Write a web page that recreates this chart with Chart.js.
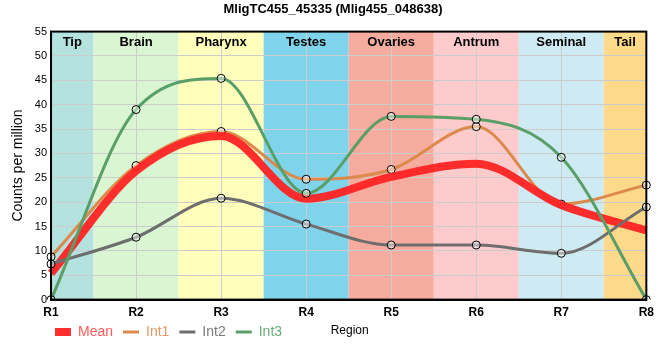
<html>
<head>
<script src="https://cdn.jsdelivr.net/npm/chart.js"></script>
<style>body{margin:0;background:#fff}</style>
</head>
<body>
<div style="width:660px;height:360px"><canvas id="myChart"></canvas></div>
<script>
var regions = ["R1", "R2", "R3", "R4", "R5", "R6", "R7", "R8"];
var tissues = ["Tip", "Brain", "Pharynx", "Testes", "Ovaries", "Antrum", "Seminal", "Tail"];
var tissueColors = ["#b4e2de", "#d9f5d1", "#ffffbb", "#7fd3ea", "#f5ab9d", "#fdcbcc", "#ceebf4", "#fdd98a"];
var meanVals = [5.4, 26.4, 33.6, 20.7, 25.2, 27.9, 19.4, 14.2];
var int1Vals = [8.8, 27.5, 34.5, 24.7, 26.7, 35.5, 19.6, 23.5];
var int2Vals = [7.3, 12.8, 20.8, 15.5, 11.2, 11.2, 9.5, 19.0];
var int3Vals = [0, 39.0, 45.4, 21.8, 37.6, 37.0, 29.2, 0];

var font = "'Liberation Sans', Arial, sans-serif";

// coloured tissue bands behind the grid, with their names on top
var bandsPlugin = {
  id: "bands",
  beforeDraw: function (chart) {
    var c = chart.ctx, a = chart.chartArea, x = chart.scales.x;
    c.save();
    for (var i = 0; i < tissues.length; i++) {
      var l = Math.max(a.left, x.getPixelForValue(i - 0.5));
      var r = Math.min(a.right, x.getPixelForValue(i + 0.5));
      c.fillStyle = tissueColors[i];
      c.fillRect(l, a.top, r - l, a.bottom - a.top);
    }
    c.restore();
  },
  beforeDatasetsDraw: function (chart) {
    var c = chart.ctx, a = chart.chartArea, x = chart.scales.x;
    c.save();
    c.font = "bold 13px " + font;
    c.fillStyle = "#000";
    c.textAlign = "center";
    c.textBaseline = "middle";
    for (var i = 0; i < tissues.length; i++) {
      var l = Math.max(a.left, x.getPixelForValue(i - 0.5));
      var r = Math.min(a.right, x.getPixelForValue(i + 0.5));
      c.fillText(tissues[i], (l + r) / 2, a.top + 11);
    }
    c.restore();
  },
  afterLayout: function (chart) {
    // legend sits under the plot, a bit higher and to the right
    chart.legend.left += 39;
    chart.legend.top -= 11;
    chart.legend.bottom -= 11;
  },
  afterDraw: function (chart) {
    var c = chart.ctx, a = chart.chartArea;
    c.save();
    c.strokeStyle = "#000";
    c.lineWidth = 2;
    c.strokeRect(a.left, a.top, a.right - a.left, a.bottom - a.top);
    c.font = "12px " + font;
    c.fillStyle = "#000";
    c.textAlign = "center";
    c.textBaseline = "middle";
    c.fillText("Region", (a.left + a.right) / 2 + 1, a.bottom + 31);
    c.restore();
  }
};

var textColors = ["#ff5a5a", "#e49a62", "#7a7a7a", "#6aac78"];
var pointFill = "rgba(255,255,255,0.45)";

var dataObj = {
  type: "line",
  data: {
    labels: regions,
    datasets: [
      { label: "Mean", data: meanVals, borderColor: "rgba(255,35,35,0.95)", backgroundColor: "rgba(255,35,35,0.95)",
        borderWidth: 8, pointRadius: 0, order: 2 },
      { label: "Int1", data: int1Vals, borderColor: "#dc8a4c", backgroundColor: "#dc8a4c",
        pointBackgroundColor: pointFill, pointBorderColor: "#000", pointBorderWidth: 1, borderWidth: 3, order: 3 },
      { label: "Int2", data: int2Vals, borderColor: "#6e6e6e", backgroundColor: "#6e6e6e",
        pointBackgroundColor: pointFill, pointBorderColor: "#000", pointBorderWidth: 1, borderWidth: 3, order: 1 },
      { label: "Int3", data: int3Vals, borderColor: "#5a9e68", backgroundColor: "#5a9e68",
        pointBackgroundColor: pointFill, pointBorderColor: "#000", pointBorderWidth: 1, borderWidth: 3, order: 0 }
    ]
  },
  options: {
    responsive: true,
    maintainAspectRatio: false,
    animation: false,
    layout: { padding: { left: 6, right: 0, top: 0, bottom: 0 } },
    elements: {
      line: { cubicInterpolationMode: "monotone", fill: false },
      point: { radius: 4, borderWidth: 1, hoverRadius: 4 }
    },
    plugins: {
      title: {
        display: true,
        text: "MligTC455_45335 (Mlig455_048638)",
        color: "#000",
        font: { family: font, size: 13, weight: "bold" },
        padding: { top: 2, bottom: 14 }
      },
      legend: {
        position: "bottom",
        align: "start",
        labels: {
          usePointStyle: true,
          pointStyle: "line",
          pointStyleWidth: 16,
          boxHeight: 10,
          padding: 10,
          font: { family: font, size: 14 },
          generateLabels: function (chart) {
            return chart.data.datasets.map(function (ds, i) {
              return {
                text: ds.label, datasetIndex: i, fillStyle: ds.borderColor, strokeStyle: ds.borderColor,
                lineWidth: ds.borderWidth, pointStyle: "line", fontColor: textColors[i], hidden: false
              };
            });
          }
        }
      },
      tooltip: { enabled: false }
    },
    scales: {
      x: {
        offset: false,
        grid: { color: "#cccccc", drawTicks: false },
        border: { color: "#000", width: 2 },
        ticks: { color: "#000", padding: 6, font: { family: font, size: 12, weight: "bold" } }
      },
      y: {
        min: 0,
        max: 55,
        grid: { color: "#cccccc", drawTicks: false },
        border: { color: "#000", width: 2 },
        ticks: { stepSize: 5, color: "#000", padding: 4, font: { family: font, size: 11 } },
        title: { display: true, text: "Counts per million", color: "#000", font: { family: font, size: 14 }, padding: 4 }
      }
    }
  },
  plugins: [bandsPlugin]
};
const ctx = document.getElementById("myChart").getContext("2d");
window.myLine = new Chart(ctx, dataObj);
</script>
</body>
</html>
